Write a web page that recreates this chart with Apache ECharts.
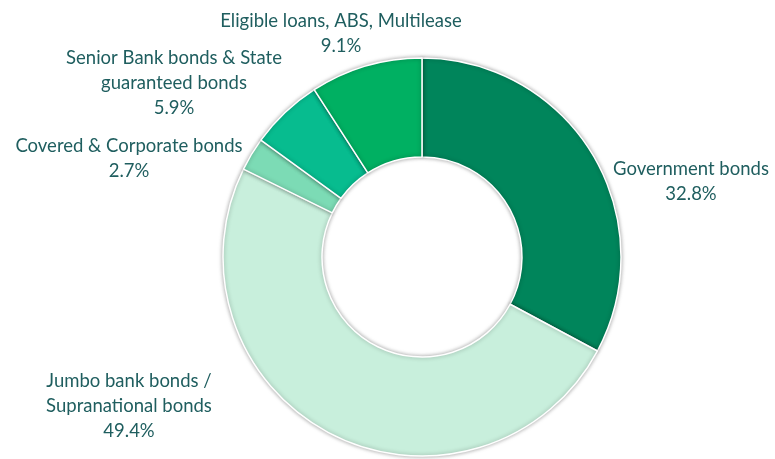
<!DOCTYPE html>
<html>
<head>
<meta charset="utf-8">
<script src="https://cdn.jsdelivr.net/npm/echarts@6/dist/echarts.min.js"></script>
<style>
html,body{margin:0;padding:0;background:#fff;}
#chart{width:775px;height:459px;}
</style>
</head>
<body>
<div id="chart"></div>
<script>
const categories = [
  'Government bonds',
  'Jumbo bank bonds /\nSupranational bonds',
  'Covered & Corporate bonds',
  'Senior Bank bonds & State\nguaranteed bonds',
  'Eligible loans, ABS, Multilease'
];
const values = [32.8, 49.4, 2.7, 5.9, 9.1];
const colors = ['#00855b', '#c8efdc', '#7cdbb5', '#07bc8f', '#00b062'];
// label anchor positions (layout only)
const labelPos = [[691, 182], [129, 406], [129, 159], [174, 83], [341, 34]];

const chart = echarts.init(document.getElementById('chart'), null, {renderer: 'canvas'});
chart.setOption({
  animation: false,
  series: [{
    type: 'pie',
    center: [422, 257],
    radius: [100, 199],
    startAngle: 90,
    clockwise: true,
    avoidLabelOverlap: false,
    data: categories.map((c, i) => ({
      name: c,
      value: values[i],
      itemStyle: {color: colors[i]}
    })),
    itemStyle: {
      borderColor: '#ffffff',
      borderWidth: 1.5,
      shadowBlur: 4,
      shadowColor: 'rgba(0,0,0,0.35)'
    },
    label: {
      show: true,
      position: 'outside',
      formatter: p => p.name + '\n' + p.value.toFixed(1) + '%',
      color: '#1f5e5f',
      fontFamily: 'Lato',
      fontSize: 18.5,
      lineHeight: 25,
      align: 'center',
      overflow: 'none',
      width: 400
    },
    labelLine: {show: false},
    labelLayout: params => ({
      x: labelPos[params.dataIndex][0],
      y: labelPos[params.dataIndex][1],
      align: 'center',
      verticalAlign: 'middle',
      hideOverlap: false
    }),
    emphasis: {disabled: true}
  }]
});
</script>
</body>
</html>
